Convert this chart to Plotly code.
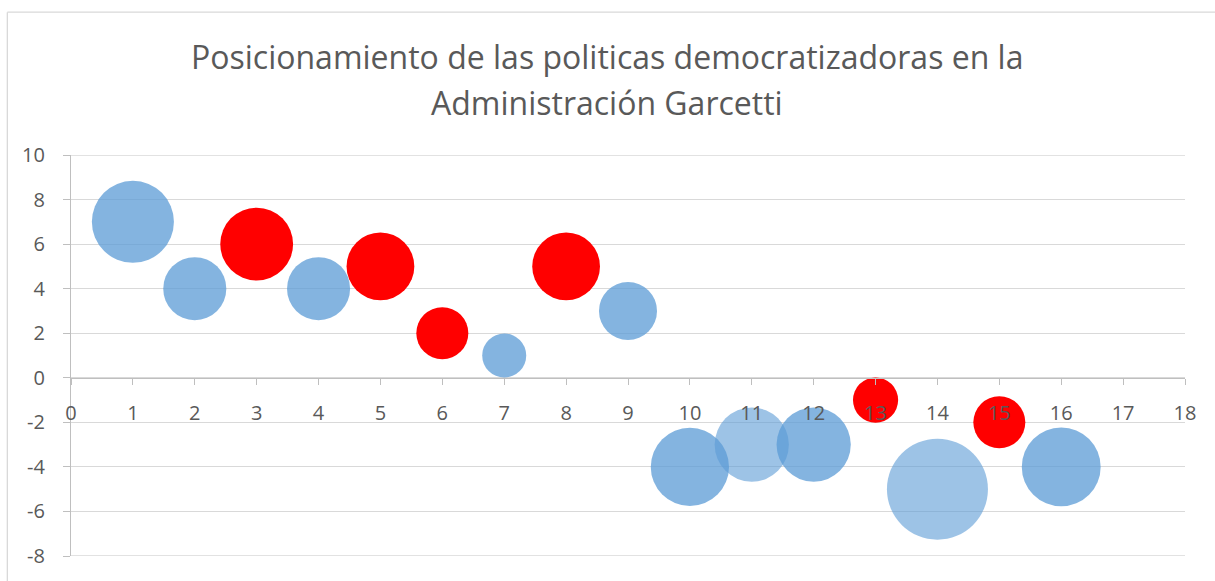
import plotly.graph_objects as go

# Data
x_vals = [1, 2, 3, 4, 5, 6, 7, 8, 9, 10, 11, 12, 13, 14, 15, 16]
y_vals = [7, 4, 6, 4, 5, 2, 1, 5, 3, -4, -3, -3, -1, -5, -2, -4]
bubble_vals = [6.6, 3.9, 5.2, 3.9, 4.5, 2.65, 1.9, 4.5, 3.3, 6.0, 5.4, 5.4, 2.0, 10.0, 2.65, 6.1]
groups = ["a", "a", "r", "a", "r", "r", "a", "r", "a", "a", "l", "a", "r", "l", "r", "a"]

x_ticks = list(range(0, 19))
y_ticks = list(range(-8, 11, 2))
y_tick_labels = ["-8", "-6", "-4", "-2", "0", "2", "4", "6", "8", "10"]

title_lines = ["Posicionamiento de las politicas democratizadoras en la",
               "Administración Garcetti"]

color_map = {"a": "rgba(91,155,213,0.75)", "l": "rgba(91,155,213,0.6)", "r": "#FF0000"}
colors = [color_map[g] for g in groups]

W, H = 1215, 581
L, R, T, B = 70.7, 29.5, 155, 21.7
pw, ph = W - L - R, H - T - B
max_diam = 101  # px diameter of the largest bubble

fig = go.Figure()

ymin, ymax = y_ticks[0], y_ticks[-1]
xmin, xmax = x_ticks[0], x_ticks[-1]
y0_frac = (0 - ymin) / (ymax - ymin)

# boundary gridlines (top and bottom), drawn under the data
for yv in (ymin, ymax):
    fig.add_shape(type="line", xref="x", yref="y", x0=xmin, x1=xmax, y0=yv, y1=yv,
                  line=dict(color="#D9D9D9", width=1.3), layer="below")

fig.add_trace(go.Scatter(
    x=x_vals, y=y_vals, mode="markers",
    marker=dict(size=bubble_vals, sizemode="area",
                sizeref=2.0 * max(bubble_vals) / (max_diam ** 2),
                color=colors, opacity=1, line=dict(width=0)),
    hoverinfo="x+y", showlegend=False,
))

fig.update_layout(
    width=W, height=H,
    margin=dict(l=L, r=R, t=T, b=B, pad=0),
    paper_bgcolor="white", plot_bgcolor="white",
    font=dict(family="Open Sans", color="#595959"),
    xaxis=dict(range=[xmin, xmax], tickvals=x_ticks, showgrid=False, zeroline=False,
               anchor="free", position=y0_frac, showline=True, linecolor="#BFBFBF",
               linewidth=1.3, ticks="outside", ticklen=6, tickcolor="#BFBFBF",
               ticklabelstandoff=11,
               tickfont=dict(size=20, color="#595959"), fixedrange=True),
    yaxis=dict(range=[ymin, ymax], tickvals=y_ticks, ticktext=y_tick_labels,
               showgrid=True, gridcolor="#D9D9D9", gridwidth=1.3, zeroline=False,
               showline=True, linecolor="#BFBFBF", linewidth=1.3,
               ticks="outside", ticklen=7, tickcolor="#BFBFBF",
               ticklabelstandoff=14,
               tickfont=dict(size=20, color="#595959"), fixedrange=True),
)

# title as two centered lines
for i, (line, py) in enumerate(zip(title_lines, [56, 102])):
    fig.add_annotation(text=line, xref="paper", yref="paper",
                       x=(W / 2 - L) / pw, y=(H - B - py) / ph,
                       xanchor="center", yanchor="middle", showarrow=False,
                       font=dict(family="Open Sans", size=32, color="#595959"))

# chart-area border (top and left edges visible)
bx = (7 - L) / pw
by = (H - B - 11) / ph
fig.add_shape(type="line", xref="paper", yref="paper", x0=bx, x1=(W - L) / pw + 0.01,
              y0=by, y1=by, line=dict(color="#D9D9D9", width=1.3))
fig.add_shape(type="line", xref="paper", yref="paper", x0=bx, x1=bx,
              y0=by, y1=-B / ph - 0.01, line=dict(color="#D9D9D9", width=1.3))

fig.write_html("out.html", config={"displayModeBar": False},
               post_script="document.body.style.margin='0';document.body.style.overflow='hidden';")
